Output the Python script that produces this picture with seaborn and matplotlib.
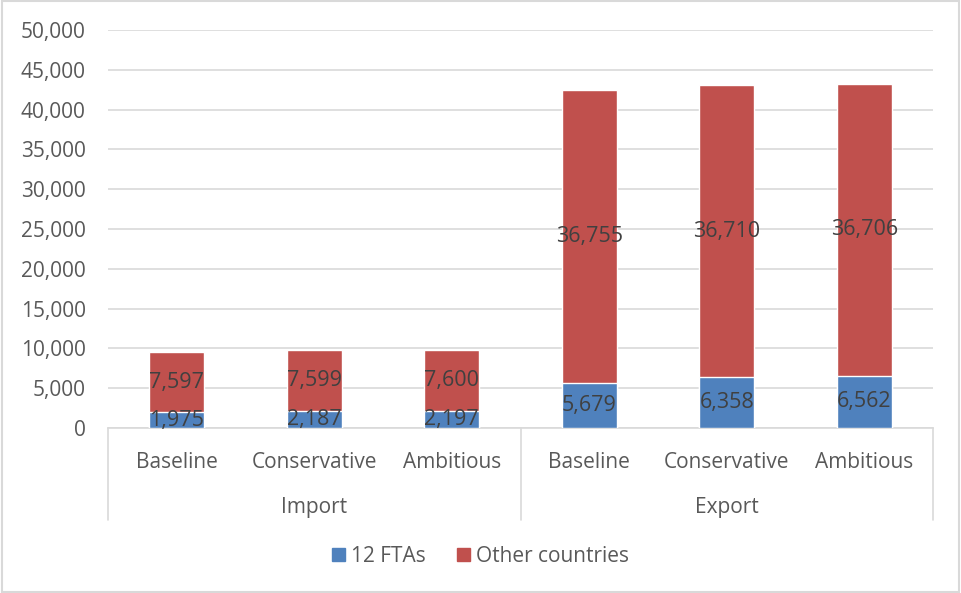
import pandas as pd
import matplotlib.pyplot as plt
import seaborn as sns
from matplotlib.ticker import FuncFormatter
from matplotlib.patches import Rectangle, Patch

# data
groups = ['Import', 'Import', 'Import', 'Export', 'Export', 'Export']
scenarios = ['Baseline', 'Conservative', 'Ambitious', 'Baseline', 'Conservative', 'Ambitious']
ftas = [1975, 2187, 2197, 5679, 6358, 6562]
others = [7597, 7599, 7600, 36755, 36710, 36706]

sns.set_style('white')
plt.rcParams['font.family'] = ['Open Sans', 'DejaVu Sans']

blue = '#4F81BD'
red = '#C0504D'
txt = '#595959'
lab = '#404040'
grid = '#D9D9D9'

df = pd.DataFrame({'group': groups, 'scenario': scenarios, 'FTA': ftas, 'Other': others})
df['key'] = df['group'] + ' ' + df['scenario']
df['total'] = df['FTA'] + df['Other']
order = list(df['key'])

fig = plt.figure(figsize=(9.61, 5.93), dpi=100)
ax = fig.add_axes([108 / 961, 165 / 593, 825 / 961, 398 / 593])

# stacked bars: full total in red, then the blue part on top of it
sns.barplot(data=df, x='key', y='total', order=order, color=red, width=0.4,
            saturation=1, ax=ax, zorder=3)
sns.barplot(data=df, x='key', y='FTA', order=order, color=blue, width=0.4,
            saturation=1, ax=ax, zorder=4)

for i, row in df.iterrows():
    ax.text(i, row['FTA'] / 2, f"{row['FTA']:,}", ha='center', va='center',
            fontsize=15.5, color=lab, zorder=5)
    ax.text(i, row['FTA'] + row['Other'] / 2, f"{row['Other']:,}", ha='center',
            va='center', fontsize=15.5, color=lab, zorder=5)

ax.set_ylim(0, 50000)
ax.set_xlim(-0.5, 5.5)
ax.set_yticks(range(0, 50001, 5000))
ax.yaxis.set_major_formatter(FuncFormatter(lambda v, p: f'{int(v):,}'))
ax.yaxis.grid(True, color=grid, linewidth=1.2, zorder=0)
ax.set_axisbelow(True)
for s in ['top', 'right', 'left']:
    ax.spines[s].set_visible(False)
ax.spines['bottom'].set_color(grid)
ax.spines['bottom'].set_linewidth(1.2)

ax.set_xticks(range(6))
ax.set_xticklabels(scenarios)
ax.tick_params(axis='x', length=0, pad=17, labelsize=15, labelcolor=txt)
ax.tick_params(axis='y', length=0, pad=16, labelsize=15, labelcolor=txt)
ax.set_xlabel('')
ax.set_ylabel('')

# group labels and separators under the axis
trans = ax.get_xaxis_transform()
for xs in [-0.5, 2.5, 5.5]:
    ax.plot([xs, xs], [0, -92 / 398], transform=trans, color=grid,
            linewidth=1.2, clip_on=False)
ax.text(1, -79 / 398, 'Import', transform=trans, ha='center', va='center',
        fontsize=15, color=txt)
ax.text(4, -79 / 398, 'Export', transform=trans, ha='center', va='center',
        fontsize=15, color=txt)

handles = [Patch(color=blue, label='12 FTAs'), Patch(color=red, label='Other countries')]
fig.legend(handles=handles, loc='center', bbox_to_anchor=(0.5, 1 - 556 / 593),
           ncol=2, frameon=False, fontsize=15, labelcolor=txt,
           handlelength=0.6, handleheight=0.6, handletextpad=0.3, columnspacing=1.5)

fig.patches.append(Rectangle((0.002, 0.002), 0.996, 0.996, transform=fig.transFigure,
                             fill=False, edgecolor=grid, linewidth=1.5))

fig.savefig('out.png', dpi=100)
